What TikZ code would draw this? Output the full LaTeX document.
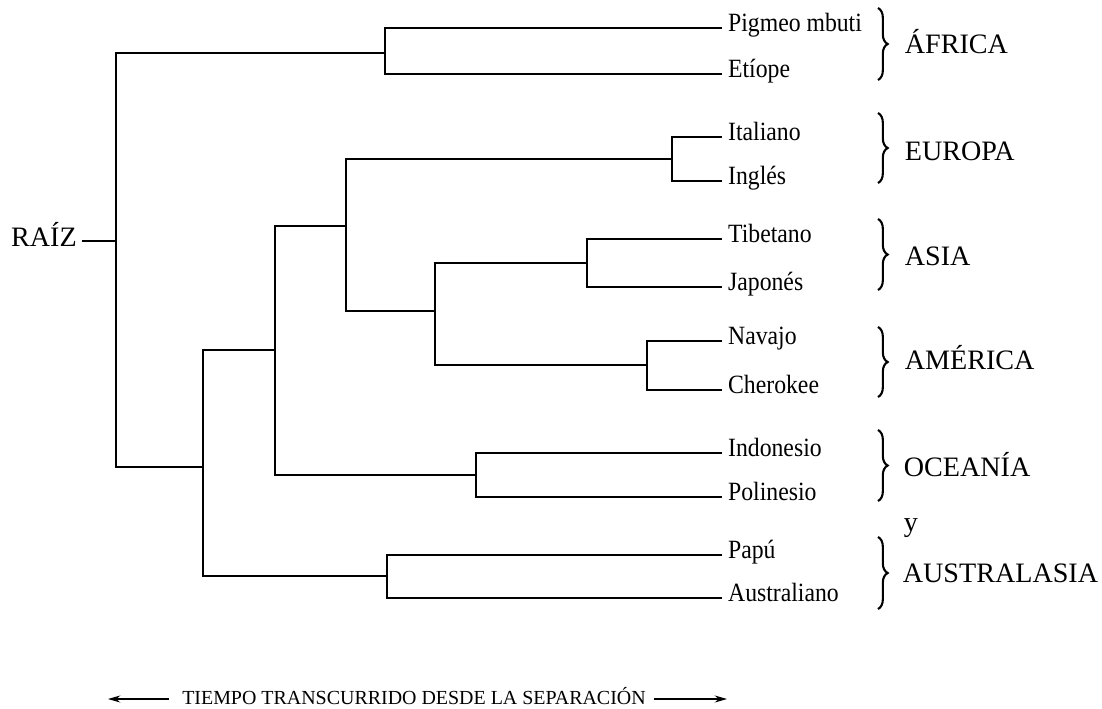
\documentclass[tikz,border=0pt]{standalone}
\usepackage{fontspec}
\setmainfont{Liberation Serif}
\newfontfamily\leaffont[FakeStretch=0.9]{Liberation Serif}
\usetikzlibrary{arrows.meta}
\usetikzlibrary{decorations.pathreplacing}

\begin{document}
\begin{tikzpicture}[x=0.02cm, y=-0.02cm, line width=1pt,
leaf/.style={anchor=west, inner xsep=3pt, inner ysep=0pt, text height=1.5ex, text depth=0.6ex,
  font=\leaffont\fontsize{15}{17}\selectfont},
region/.style={anchor=west, inner sep=0pt, text height=1.45ex, text depth=0pt,
  font=\fontsize{16}{19}\selectfont},
curly/.style={decorate, decoration={brace, amplitude=5.5pt}, line width=1.2pt}]
\useasboundingbox (0,0) rectangle (1102,708);
%\draw[gray] (0,0) rectangle (1102,708);

% ramas internas
\coordinate (root) at (116,241);
\coordinate (nAf) at (385,53);
\coordinate (n1) at (203,467);
\coordinate (n2) at (275,350);
\coordinate (n3) at (346,226);
\coordinate (n4) at (435,311);
\coordinate (nEu) at (672,159);
\coordinate (nAs) at (587,263);
\coordinate (nAm) at (647,365);
\coordinate (nOc) at (476,475);
\coordinate (nAu) at (387,576);

\node[region, anchor=east, inner xsep=2.5pt] (raiz) at (82,241) {RAÍZ};

% hojas
\node[leaf] (pig) at (722,28) {Pigmeo mbuti};
\node[leaf] (eti) at (722,74) {Etíope};
\node[leaf] (ita) at (722,137) {Italiano};
\node[leaf] (ing) at (722,181) {Inglés};
\node[leaf] (tib) at (722,239) {Tibetano};
\node[leaf] (jap) at (722,287) {Japonés};
\node[leaf] (nav) at (722,341) {Navajo};
\node[leaf] (che) at (722,390) {Cherokee};
\node[leaf] (ind) at (722,453) {Indonesio};
\node[leaf] (pol) at (722,497) {Polinesio};
\node[leaf] (pap) at (722,555) {Papú};
\node[leaf] (aus) at (722,598) {Australiano};

\draw (raiz.east) -- (root);
\draw (root) |- (nAf);
\draw (root) |- (n1);
\draw (n1) |- (n2);
\draw (n1) |- (nAu);
\draw (n2) |- (n3);
\draw (n2) |- (nOc);
\draw (n3) |- (nEu);
\draw (n3) |- (n4);
\draw (n4) |- (nAs);
\draw (n4) |- (nAm);
\draw (nAf) |- (pig.west);
\draw (nAf) |- (eti.west);
\draw (nEu) |- (ita.west);
\draw (nEu) |- (ing.west);
\draw (nAs) |- (tib.west);
\draw (nAs) |- (jap.west);
\draw (nAm) |- (nav.west);
\draw (nAm) |- (che.west);
\draw (nOc) |- (ind.west);
\draw (nOc) |- (pol.west);
\draw (nAu) |- (pap.west);
\draw (nAu) |- (aus.west);

% regiones
\draw[curly] (878,8) -- (878,80);
\draw[curly] (878,113) -- (878,183);
\draw[curly] (878,219) -- (878,290);
\draw[curly] (878,327) -- (878,397);
\draw[curly] (878,430) -- (878,501);
\draw[curly] (878,537) -- (878,609);
\node[region] (africa) at (904,48) {ÁFRICA};
\node[region] (europa) at (904,155) {EUROPA};
\node[region] (asia) at (904,260) {ASIA};
\node[region] (america) at (904,364) {AMÉRICA};
\node[region] (oceania) at (903,471) {OCEANÍA};
\node[region] (yy) at (903,526) {y};
\node[region] (australasia) at (902,577) {AUSTRALASIA};

% eje del tiempo
\node[inner sep=0pt, text height=1.45ex, text depth=0pt, font=\fontsize{11.35}{13}\selectfont]
  (tiempo) at (414,699) {TIEMPO TRANSCURRIDO DESDE LA SEPARACIÓN};
\coordinate (izq) at (108,699);
\coordinate (der) at (727,699);
\draw[line width=0.6pt, -{Stealth[length=7pt,width=4pt]}] ([xshift=-7pt]tiempo.west) -- (izq);
\draw[line width=0.6pt, -{Stealth[length=7pt,width=4pt]}] ([xshift=4pt]tiempo.east) -- (der);
\end{tikzpicture}
\end{document}
